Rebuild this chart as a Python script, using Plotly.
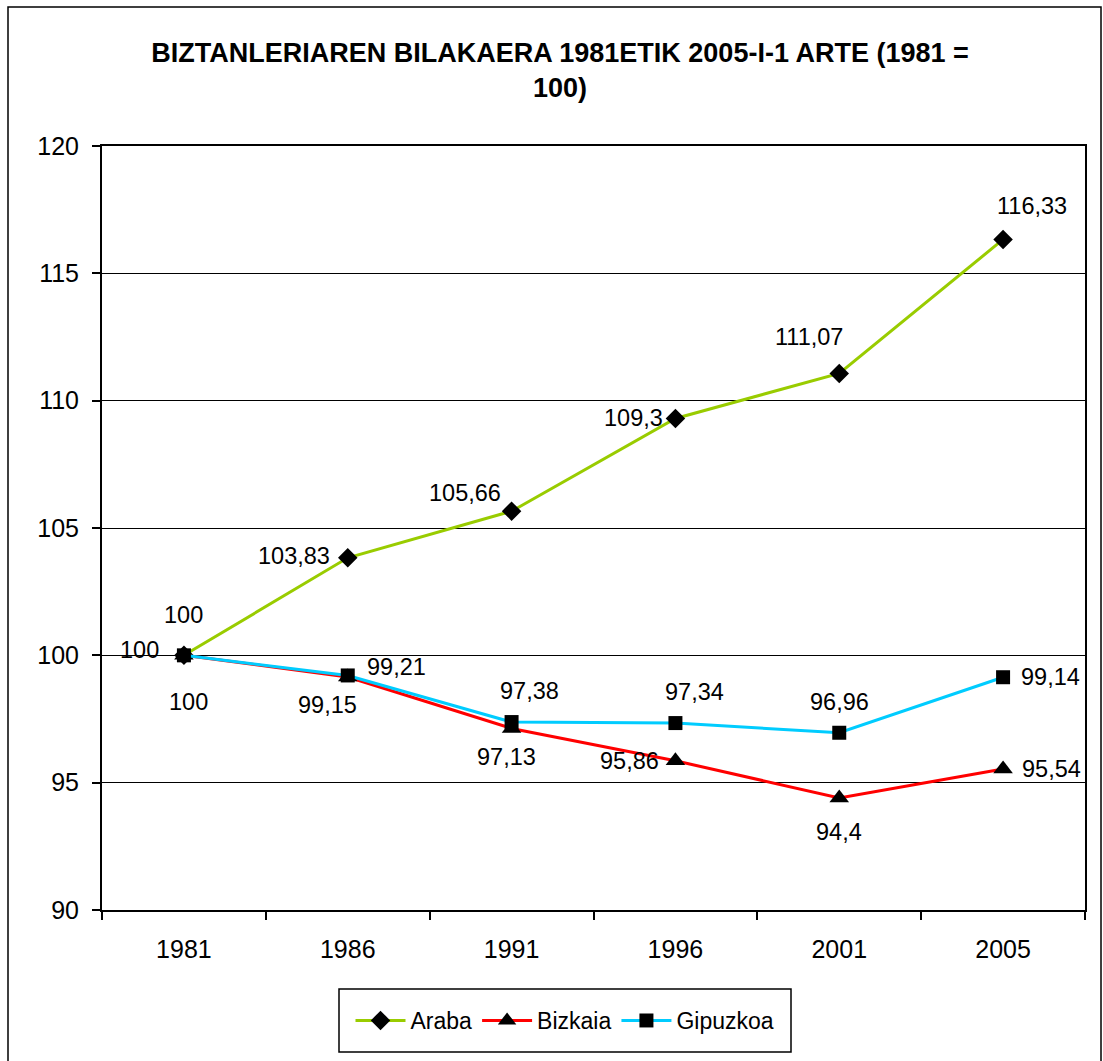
import plotly.graph_objects as go

# ---- data ----
years = ["1981", "1986", "1991", "1996", "2001", "2005"]
araba = [100, 103.83, 105.66, 109.3, 111.07, 116.33]
bizkaia = [100, 99.15, 97.13, 95.86, 94.4, 95.54]
gipuzkoa = [100, 99.21, 97.38, 97.34, 96.96, 99.14]
y_ticks = [90, 95, 100, 105, 110, 115, 120]
title_text = "BIZTANLERIAREN BILAKAERA 1981ETIK 2005-I-1 ARTE (1981 =<br>100)"

# ---- styling ----
W, H = 1103, 1061
L, R, T, B = 102, 1085, 146, 910  # plot area pixels
FONT = "Liberation Sans, Arial, sans-serif"

series = [
    ("Araba", araba, "#99CC00", "diamond", 15),
    ("Bizkaia", bizkaia, "#FF0000", "triangle-up", 17),
    ("Gipuzkoa", gipuzkoa, "#00CCFF", "square", 14),
]
# label offsets (pixels) per series per point
label_offsets = {
    "Araba": [(0, -40), (-54, -2), (-47, -18), (-42, 0), (-30, -36), (29, -33)],
    "Bizkaia": [(5, 47), (-20, 28), (-5, 29), (-46, 0), (0, 34), (48, 0)],
    "Gipuzkoa": [(-44, -5), (49, -8), (18, -31), (19, -31), (0, -31), (47, 0)],
}

def fmt(v):
    return f"{v:g}".replace(".", ",")

fig = go.Figure()
annotations = []
for name, vals, color, sym, msize in series:
    fig.add_trace(go.Scatter(
        x=years, y=vals, name=name, mode="lines+markers",
        line=dict(color=color, width=3),
        marker=dict(symbol=sym, size=msize, color="black"),
    ))
    for i, (yv, (dx, dy)) in enumerate(zip(vals, label_offsets[name])):
        annotations.append(dict(
            x=i, y=yv, xref="x", yref="y", text=fmt(yv), showarrow=False,
            xshift=dx, yshift=-dy, font=dict(family=FONT, size=23.5, color="black"),
        ))

pw, ph = R - L, B - T
def px_x(p):
    return (p - L) / pw
def px_y(p):
    return (B - p) / ph

shapes = [
    dict(type="rect", xref="paper", yref="paper",
         x0=px_x(8), x1=px_x(1101), y0=px_y(1075), y1=px_y(7),
         line=dict(color="black", width=1.5), fillcolor="rgba(0,0,0,0)", layer="below"),
    dict(type="rect", xref="paper", yref="paper",
         x0=px_x(339), x1=px_x(791), y0=px_y(1052), y1=px_y(989),
         line=dict(color="black", width=1.5), fillcolor="white", layer="below"),
]

fig.update_layout(
    width=W, height=H,
    margin=dict(l=L, r=W - R, t=T, b=H - B, pad=0),
    paper_bgcolor="white", plot_bgcolor="white",
    font=dict(family=FONT, color="black"),
    title=dict(text=title_text, x=560 / W, xanchor="center", y=1 - 62 / H, yanchor="top",
               font=dict(family=FONT, size=27, color="black", weight="bold")),
    xaxis=dict(
        type="category", categoryorder="array", categoryarray=years,
        showgrid=False, showline=True, linecolor="black", linewidth=2, mirror=True,
        ticks="outside", ticklen=8, tickwidth=1.5, tickcolor="black", tickson="boundaries",
        tickfont=dict(family=FONT, size=25, color="black"), ticklabelstandoff=16,
        range=[-0.5, len(years) - 0.5], zeroline=False,
    ),
    yaxis=dict(
        range=[90, 120], tickvals=y_ticks, ticktext=[str(v) for v in y_ticks],
        showgrid=True, gridcolor="black", gridwidth=1,
        showline=True, linecolor="black", linewidth=2, mirror=True,
        ticks="outside", ticklen=8, tickwidth=1.5, tickcolor="black",
        tickfont=dict(family=FONT, size=25, color="black"), ticklabelstandoff=8,
        zeroline=False,
    ),
    legend=dict(
        orientation="h", x=px_x(565), xanchor="center", y=px_y(1020.5), yanchor="middle",
        bgcolor="rgba(0,0,0,0)", borderwidth=0,
        font=dict(family=FONT, size=23, color="black"),
        itemwidth=50, tracegroupgap=0,
    ),
    annotations=annotations,
    shapes=shapes,
    showlegend=True,
)

fig.write_html(
    "out.html",
    config={"displayModeBar": False},
    post_script="document.body.style.margin='0';document.body.style.overflow='hidden';",
)
